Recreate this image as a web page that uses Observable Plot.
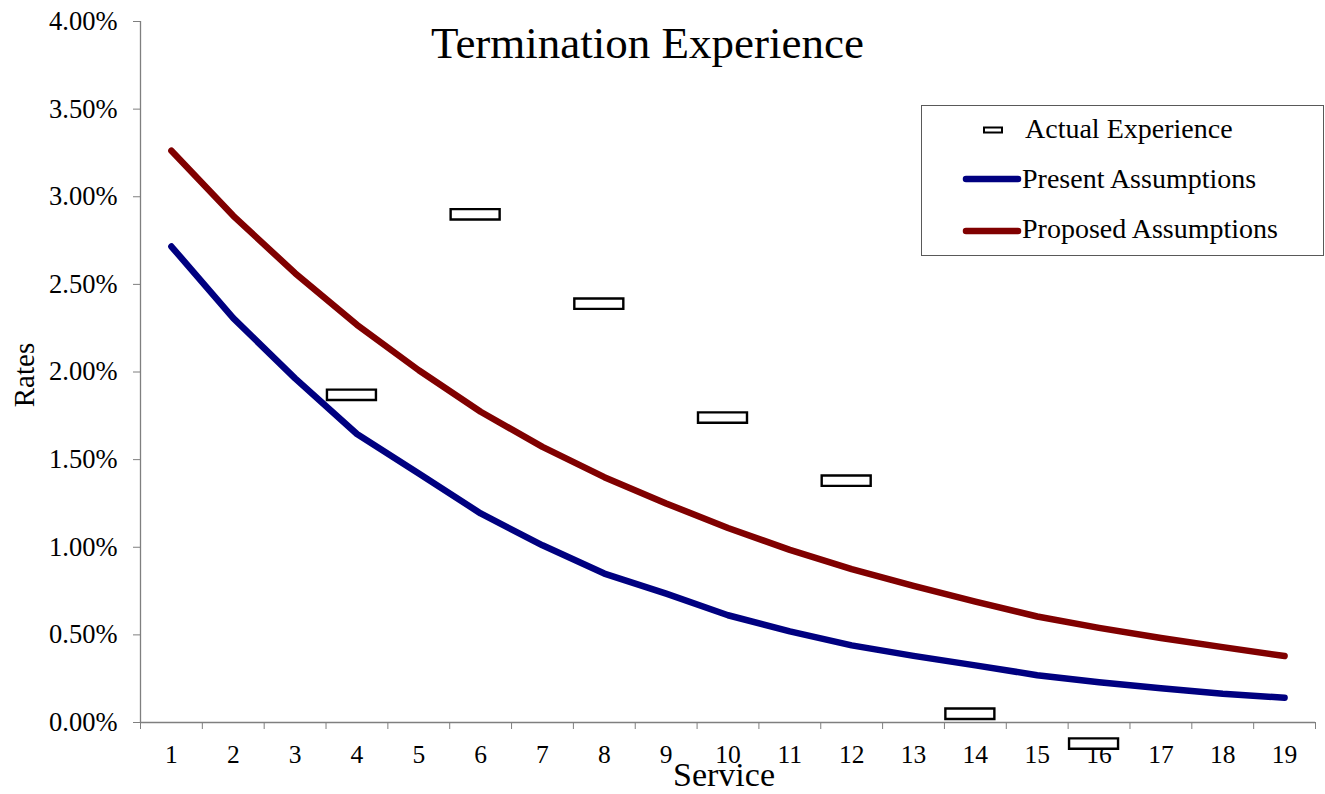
<!DOCTYPE html>
<html>
<head>
<meta charset="utf-8">
<script src="https://cdn.jsdelivr.net/npm/d3@7"></script>
<script src="https://cdn.jsdelivr.net/npm/@observablehq/plot@0.6"></script>
<style>
  html, body { margin: 0; padding: 0; background: #fff; }
  #wrap { position: relative; width: 1325px; height: 794px; font-family: "Liberation Serif", "Times New Roman", serif; }
  #title { position: absolute; left: 0; top: 21px; width: 1295px; text-align: center; font-size: 45px; line-height: 45px; color: #000; }
  #overlay { position: absolute; left: 0; top: 0; pointer-events: none; }
</style>
</head>
<body>
<div id="wrap">
  <div id="chart"></div>
  <div id="title">Termination Experience</div>
  <svg id="overlay" width="1325" height="794"></svg>
</div>
<script>
// Years of service (x categories)
const services = [1, 2, 3, 4, 5, 6, 7, 8, 9, 10, 11, 12, 13, 14, 15, 16, 17, 18, 19];

// Termination rates in percent
const present  = [2.716, 2.307, 1.964, 1.646, 1.421, 1.193, 1.011, 0.850, 0.735, 0.612, 0.520, 0.440, 0.380, 0.326, 0.270, 0.230, 0.196, 0.164, 0.141];
const proposed = [3.263, 2.891, 2.564, 2.269, 2.010, 1.773, 1.573, 1.400, 1.250, 1.110, 0.985, 0.875, 0.780, 0.690, 0.605, 0.540, 0.482, 0.430, 0.379];

// Observed experience at every other service year
const actualServices = [4, 6, 8, 10, 12, 14, 16];
const actualRates    = [1.87, 2.90, 2.39, 1.74, 1.38, 0.05, -0.12];

// Y axis ticks (percent)
const yTicks = [0, 0.5, 1, 1.5, 2, 2.5, 3, 3.5, 4];

const seriesNames  = ["Actual Experience", "Present Assumptions", "Proposed Assumptions"];
const seriesColors = ["#000000", "#000080", "#800000"];

const lineData = [
  ...services.map((s, i) => ({service: s, rate: present[i], series: seriesNames[1]})),
  ...services.map((s, i) => ({service: s, rate: proposed[i], series: seriesNames[2]}))
];
const actual = actualServices.map((s, i) => ({service: s, rate: actualRates[i]}));

// Category boundaries for the x tick marks
const boundaries = [...services.map(s => s - 0.5), services[services.length - 1] + 0.5];

// Flat rectangular marker for the experience points
const flatBox = { draw(ctx) { ctx.rect(-24.5, -5.2, 49, 10.4); } };

const axisGrey = "#7f7f7f";
const serif = "Liberation Serif, Times New Roman, serif";

const chart = Plot.plot({
  width: 1325,
  height: 794,
  marginLeft: 140,
  marginRight: 10,
  marginTop: 21,
  marginBottom: 72,
  style: { fontFamily: serif, fontSize: "26px", color: "#000", background: "#fff" },
  x: { type: "linear", domain: [boundaries[0], boundaries[boundaries.length - 1]], axis: null },
  y: { domain: [0, 4], axis: null },
  color: { domain: seriesNames, range: seriesColors },
  marks: [
    Plot.axisY({ ticks: yTicks, tickFormat: d => d.toFixed(2) + "%", tickSize: 7, tickPadding: 16, fontSize: 26.5, stroke: axisGrey, fill: "#000", label: null }),
    Plot.axisX({ ticks: boundaries, tickFormat: () => "", tickSize: 7, stroke: axisGrey, label: null }),
    Plot.axisX({ ticks: services, tickFormat: d => String(d), tickSize: 0, tickPadding: 22, fontSize: 25.5, fill: "#000", label: null }),
    Plot.ruleX([boundaries[0]], { y1: 0, y2: 4, stroke: axisGrey, strokeWidth: 1.3 }),
    Plot.ruleY([0], { x1: boundaries[0], x2: boundaries[boundaries.length - 1], stroke: axisGrey, strokeWidth: 1.3 }),
    Plot.line(lineData, { x: "service", y: "rate", z: "series", stroke: "series", strokeWidth: 6.5, strokeLinecap: "round", strokeLinejoin: "round" }),
    Plot.dot(actual, { x: "service", y: "rate", symbol: flatBox, r: 5, dx: -5.5, fill: "#fff", stroke: "#000", strokeWidth: 2.4, ariaLabel: "actual experience" })
  ]
});

// Soft drop shadow under the experience markers
const ns = "http://www.w3.org/2000/svg";
const defs = document.createElementNS(ns, "defs");
defs.innerHTML = '<filter id="boxShadow" x="-20%" y="-60%" width="150%" height="260%"><feDropShadow dx="1" dy="3" stdDeviation="1.5" flood-color="#000" flood-opacity="0.35"/></filter>';
chart.insertBefore(defs, chart.firstChild);
const boxes = chart.querySelector('g[aria-label="actual experience"]');
if (boxes) boxes.setAttribute("filter", "url(#boxShadow)");

document.getElementById("chart").appendChild(chart);

const ov = d3.select("#overlay");

// Axis titles
ov.append("text").attr("transform", "translate(24,375) rotate(-90)")
  .attr("text-anchor", "middle").attr("dominant-baseline", "central")
  .attr("font-family", serif).attr("font-size", 29).attr("fill", "#000").text("Rates");
ov.append("text").attr("x", 724).attr("y", 786).attr("text-anchor", "middle")
  .attr("font-family", serif).attr("font-size", 34).attr("fill", "#000").text("Service");

// Legend box in the upper right
ov.append("rect").attr("x", 921.5).attr("y", 105.5).attr("width", 402).attr("height", 150)
  .attr("fill", "#fff").attr("stroke", "#595959").attr("stroke-width", 1);
const entryY = [130, 179, 231];
const textY  = [138, 188, 238];
ov.append("rect").attr("x", 984).attr("y", entryY[0] - 2.5).attr("width", 18).attr("height", 5)
  .attr("fill", "#fff").attr("stroke", "#000").attr("stroke-width", 2);
[1, 2].forEach(i => {
  ov.append("line").attr("x1", 966).attr("x2", 1018).attr("y1", entryY[i]).attr("y2", entryY[i])
    .attr("stroke", seriesColors[i]).attr("stroke-width", 6.5).attr("stroke-linecap", "round");
});
seriesNames.forEach((name, i) => {
  ov.append("text").attr("x", i === 0 ? 1025 : 1022).attr("y", textY[i])
    .attr("font-family", serif).attr("font-size", 28)
    .attr("fill", "#000").text(name);
});
</script>
</body>
</html>
